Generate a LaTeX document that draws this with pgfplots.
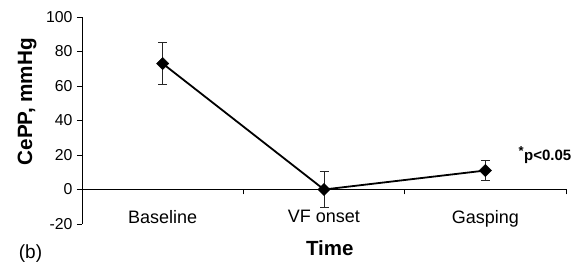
\documentclass[border=0pt]{standalone}
\usepackage{fontspec}
\setmainfont{Liberation Sans}
\usepackage{pgfplots}
\pgfplotsset{compat=1.18}
\usepackage{pgfplotstable}
\pgfplotstableread{
x y err
0 73 12
1 0 10.5
2 11 6
}\cepp
\newcommand{\yf}{\fontsize{15.8}{18}\selectfont}
\begin{document}
\begin{tikzpicture}
\useasboundingbox (-82pt,-40pt) rectangle (501pt,224pt);
\begin{axis}[
  at={(0,0)}, anchor=south west,
  scale only axis, width=484pt, height=207pt,
  axis x line=middle, axis y line=left,
  x axis line style={-, line width=0.9pt},
  y axis line style={-, line width=0.9pt},
  xmin=-0.5, xmax=2.5, ymin=-20, ymax=100,
  enlargelimits=false,
  ytick={-20,0,20,40,60,80,100},
  yticklabels={{\yf -20},{\yf 0},{\yf 20},{\yf 40},{\yf 60},{\yf 80},{\yf 100}},
  xtick={-0.5,0.5,1.5,2.5}, xticklabels={},
  extra x ticks={0,1,2},
  extra x tick labels={Baseline,VF onset,Gasping},
  extra x tick style={major tick length=0pt, xticklabel style={yshift=-17pt}},
  tick align=outside,
  major tick length=5pt,
  tick style={black, line width=0.8pt},
  /pgf/number format/assume math mode=true,
  yticklabel style={font=\yf, xshift=-1pt},
  xticklabel style={font=\fontsize{18}{21}\selectfont},
  xlabel={Time},
  xlabel style={font=\fontsize{20.5}{24}\selectfont\bfseries, at={(axis description cs:0.512,-0.116)}, anchor=center},
  ylabel={CePP, mmHg},
  ylabel style={font=\fontsize{20.7}{24}\selectfont\bfseries, at={(axis description cs:-0.1136,0.591)}, anchor=center},
  clip=false,
]
\addplot[black, line width=1.8pt, mark=square*, mark size=4.3pt, mark options={rotate=45, solid, line width=0.5pt},
  error bars/.cd, y dir=both, y explicit,
  error bar style={black!85, line width=1pt},
  error mark options={rotate=90, mark size=4.5pt, black!85, line width=1pt}]
  table[x=x, y=y, y error=err] {\cepp};
\node[anchor=center, font=\fontsize{15}{18}\selectfont\bfseries] at (axis description cs:0.9566,0.333) {\textsuperscript{\fontsize{13}{15}\selectfont *}p<0.05};
\node[anchor=center, font=\fontsize{19}{22}\selectfont] at (axis description cs:-0.1064,-0.1425) {(b)};
\end{axis}
\end{tikzpicture}
\end{document}
